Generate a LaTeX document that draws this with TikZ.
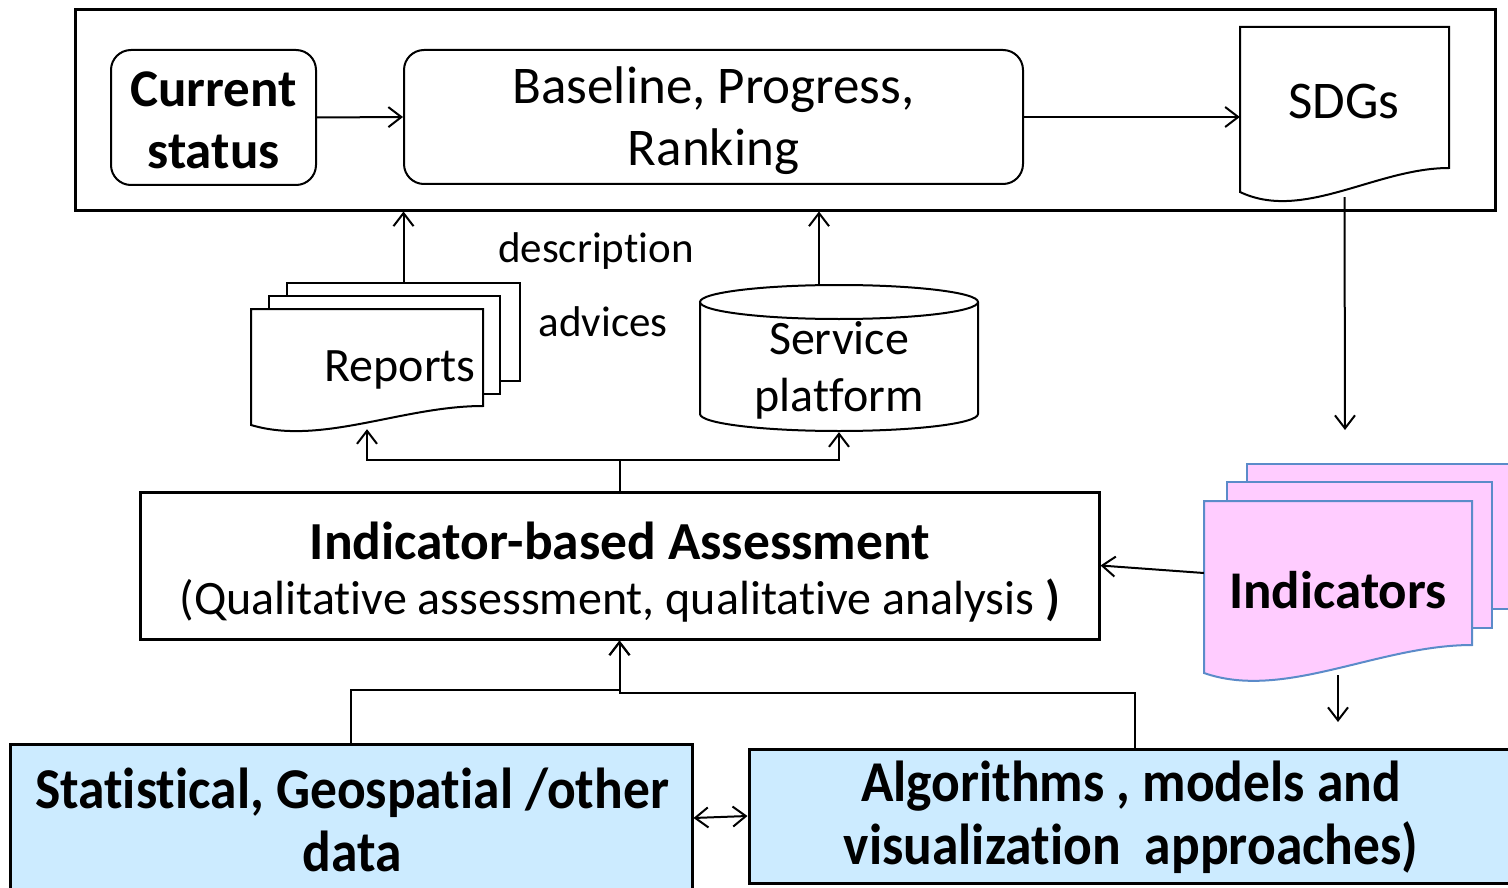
\documentclass[tikz,border=0pt]{standalone}
\usepackage{fontspec}
\setmainfont{Carlito}[Ligatures=NoCommon]
\usetikzlibrary{arrows.meta,calc}
\definecolor{pinkfill}{HTML}{FFCCFF}
\definecolor{pinkline}{HTML}{5B8BC9}
\definecolor{bluefill}{HTML}{CCEBFF}
\begin{document}
\begin{tikzpicture}[x=1pt,y=-1pt,
  conn/.style={line width=2pt,-{Straight Barb[length=13pt,width=20pt,line width=2pt]}},
  frame/.style={draw,line width=3pt,inner sep=0pt},
  rbox/.style={draw,line width=2pt,rounded corners=20pt,inner sep=0pt},
  holder/.style={inner sep=0pt,draw=none},
  doc/.style={draw,line width=2pt,fill=white},
  pdoc/.style={draw=pinkline,line width=2pt,fill=pinkfill},
  big/.style={font=\fontsize{53}{62}\selectfont,align=center},
  mid/.style={font=\fontsize{48}{57}\selectfont,align=center},
  lab/.style={font=\fontsize{43}{50}\selectfont},
  bbox/.style={draw,line width=3pt,fill=bluefill,inner sep=0pt},
  btext/.style={font=\bfseries\fontsize{53.5}{63}\selectfont,align=center},
]
\useasboundingbox (0,0) rectangle (1508,888);
\fill[white] (0,0) rectangle (1508,888);

% top frame
\node[frame,minimum width=1420pt,minimum height=200pt] (outer) at (785,110) {};
\node[rbox,minimum width=205pt,minimum height=135pt] (cur) at (213.5,117.5) {};
\node[big,font=\bfseries\fontsize{53}{62}\selectfont] at (213.5,120) {Current\\status};
\node[rbox,minimum width=619pt,minimum height=134pt] (base) at (713.5,117) {};
\node[big] at (713.5,121) {Baseline, Progress,\\Ranking};

% SDGs document
\draw[doc] (1240,27) -- (1449,27) -- (1449,168)
  .. controls (1376,168) and (1303,222) .. (1240,192) -- cycle;
\node[holder,minimum width=209pt,minimum height=170pt] (sdg) at (1344.5,112) {};
\node[big] at (1344,101) {SDGs};

\draw[conn] (cur.east) -- (base.west);
\draw[conn] (base.east) -- (sdg.west |- base.east);

% Reports stack
\draw[doc] (287,283) rectangle (520,381);
\node[holder,minimum width=233pt,minimum height=98pt] (repB) at (403.5,332) {};
\draw[doc] (269,296) rectangle (500,394);
\draw[doc] (251,309) -- (483,309) -- (483,406)
  .. controls (402,406) and (321,446) .. (251,425) -- cycle;
\node[holder,minimum width=232pt,minimum height=120pt] (rep) at (367,369) {};
\node[mid] at (400,370) {Reports};

% Service platform cylinder
\draw[line width=2pt,fill=white] (700,302) -- (700,414) arc[start angle=180,end angle=360,x radius=139,y radius=-17] -- (978,302);
\draw[line width=2pt,fill=white] (839,302) ellipse[x radius=139,y radius=17];
\node[holder,minimum width=278pt,minimum height=147pt] (svc) at (839,358.5) {};
\node[mid] at (839,370) {Service\\platform};

\node[lab] at (596,251) {description};
\node[lab] at (603,322) {advices};

\draw[conn] (repB.north) -- (repB.north |- outer.south);
\draw[conn] ($(svc.north)+(-20,0)$) -- ($(svc.north |- outer.south)+(-20,0)$);

% Assessment
\node[frame,minimum width=959pt,minimum height=147pt] (assess) at (619.5,565.5) {};
\node[font=\bfseries\fontsize{53.5}{60}\selectfont] at (620,541) {Indicator-based Assessment};
\node[font=\fontsize{48}{56}\selectfont] at (620,601) {(Qualitative assessment, qualitative analysis \textbf{)}};

\draw[conn] (assess.north) -- ++(0,-31) -| (rep.south);
\draw[conn] (assess.north) -- ++(0,-31) -| (svc.south);

% Indicators stack
\draw[pdoc] (1247,464) rectangle (1525,609);
\draw[pdoc] (1227,482) rectangle (1492,628);
\draw[pdoc] (1204,501) -- (1472,501) -- (1472,645)
  .. controls (1378,645) and (1284,701) .. (1204,673) -- cycle;
\node[holder,minimum width=268pt,minimum height=180pt] (ind) at (1338,591) {};
\node[font=\bfseries\fontsize{53}{62}\selectfont] at (1338,590) {Indicators};

\coordinate (sdgend) at (1345,430);
\draw[conn] (sdg.south) -- (sdgend);
\draw[conn] ($(ind.west)+(0,-18)$) -- (assess.east);
\coordinate (indend) at (1338,722);
\draw[conn] ($(ind.south)+(0,-6)$) -- (indend);

% bottom boxes
\node[bbox,minimum width=682pt,minimum height=148pt] (stat) at (351,818) {};
\node[btext] at (352,820) {\scalebox{1}[1.08]{Statistical, Geospatial /other}\\\scalebox{1}[1.08]{data}};
\node[bbox,minimum width=771pt,minimum height=134pt] (alg) at (1134.5,816) {};
\node[btext] at (1131,817) {\scalebox{1}[1.08]{Algorithms , models and}\\\scalebox{1}[1.08]{visualization\ \ approaches)}};

\draw[conn] (stat.north) -- ++(0,-53) -| (assess.south);
\draw[conn] (alg.north) -- ++(0,-55) -| (assess.south);
\draw[line width=2pt,{Straight Barb[length=13pt,width=20pt,line width=2pt]}-{Straight Barb[length=13pt,width=20pt,line width=2pt]}] (stat.east) -- (alg.west);
\end{tikzpicture}
\end{document}
